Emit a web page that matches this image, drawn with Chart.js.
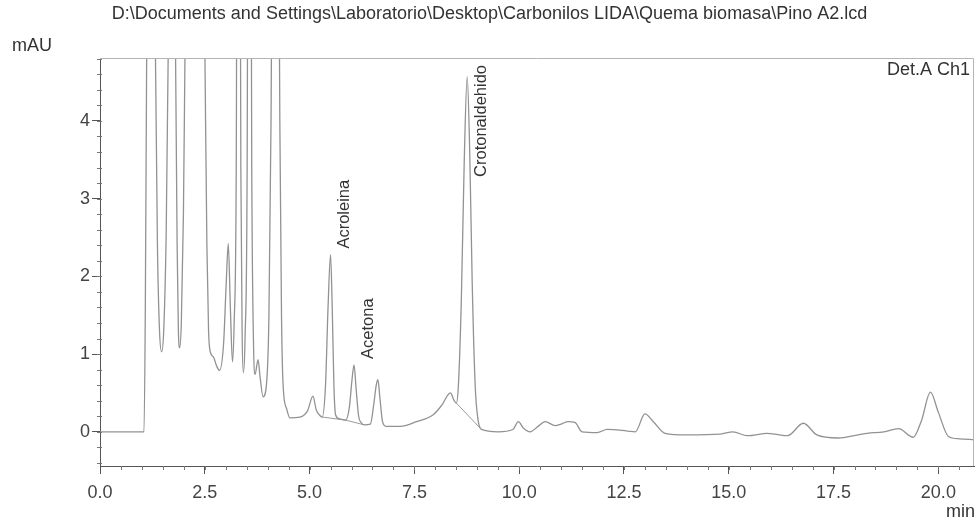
<!DOCTYPE html>
<html>
<head>
<meta charset="utf-8">
<title>Pino A2</title>
<script src="https://cdn.jsdelivr.net/npm/chart.js@4.4.1/dist/chart.umd.min.js"></script>
<style>
  html, body { margin: 0; padding: 0; background: #fff; }
  #crom { display: block; }
</style>
</head>
<body>
<canvas id="crom" width="979" height="521"></canvas>
<script>
// Cromatograma Det.A Ch1 - tiempo (min) vs absorbancia (mAU)
const tiempos = [
  0, 1.05, 1.08, 1.11, 1.22, 1.32, 1.37, 1.42, 1.47,
  1.52, 1.58, 1.63, 1.72, 1.8, 1.84, 1.87, 1.9,
  1.94, 1.99, 2.03, 2.27, 2.5, 2.55, 2.59, 2.63,
  2.71, 2.78, 2.85,
  2.95, 3.01, 3.06, 3.11, 3.16,
  3.2, 3.25, 3.3, 3.36, 3.39, 3.42,
  3.46, 3.51, 3.56, 3.62, 3.66, 3.7,
  3.77, 3.82, 3.89,
  3.97, 4.03, 4.08, 4.18, 4.29, 4.33, 4.37,
  4.45, 4.53, 4.77, 4.95, 5.08, 5.16, 5.23, 5.3,
  5.38, 5.44, 5.5, 5.54, 5.58, 5.62, 5.7, 5.86,
  5.95, 6.01, 6.06, 6.11, 6.17, 6.23, 6.3, 6.45,
  6.53, 6.59, 6.63, 6.68, 6.74, 6.82, 7.16, 7.55, 7.95, 8.15, 8.36, 8.45, 8.5,
  8.55, 8.62, 8.69, 8.76, 8.82, 8.88, 8.95, 9.02, 9.1,
  9.5, 9.85, 9.98, 10.1, 10.26, 10.45, 10.62, 10.86, 11.0, 11.17, 11.33, 11.5,
  11.86, 12.1, 12.58, 12.77, 13.0, 13.2, 13.48, 14.0, 14.8, 15.1, 15.44, 15.92,
  16.1, 16.4, 16.78, 17.1, 17.6, 18.3, 18.7, 19.05, 19.4, 19.6, 19.81, 20.0,
  20.24, 20.5, 20.85
];
const absorbancia = [
  0, 0, 1.5, 4.5, 14, 5, 2.4, 1.3, 1.03,
  1.3, 2.6, 5, 14, 5, 2.4, 1.3, 1.08,
  1.4, 2.8, 5, 16, 5, 2.4, 1.3, 1.03,
  0.96, 0.85, 0.79,
  1.15, 1.9, 2.42, 1.6, 0.9,
  1.4, 3.4, 14, 3.4, 1.3, 0.76,
  1.2, 3.4, 14, 3.4, 1.2, 0.74,
  0.93, 0.7, 0.45,
  0.6, 1.5, 4, 14, 4, 1.5, 0.58,
  0.3, 0.18, 0.19, 0.27, 0.46, 0.28, 0.22, 0.19,
  0.6, 1.6, 2.28, 1.6, 0.6, 0.22, 0.17, 0.15,
  0.32, 0.66, 0.86, 0.55, 0.2, 0.12, 0.09, 0.1,
  0.35, 0.6, 0.67, 0.42, 0.13, 0.07, 0.07, 0.13, 0.22, 0.34, 0.5, 0.4, 0.37,
  0.6, 1.7, 3.5, 4.57, 3.6, 1.9, 0.6, 0.15, 0.03,
  0.0, 0.03, 0.13, 0.05, 0.0, 0.07, 0.13, 0.08, 0.1, 0.13, 0.12, 0.0,
  -0.01, 0.03, 0.01, 0.0, 0.23, 0.13, -0.02, -0.04, -0.03, 0.0, -0.05, -0.02,
  -0.03, -0.05, 0.11, -0.04, -0.08, -0.02, 0.0, 0.04, -0.07, 0.15, 0.51, 0.25,
  -0.06, -0.09, -0.1
];

// picos identificados
const picosNombre = ["Acroleina", "Acetona", "Crotonaldehido"];
const picosTiempo = [5.5, 6.06, 8.76];
const picosAltura = [2.28, 0.86, 4.57];

// lineas base de integracion (inicio / fin)
const baseInicioT = [5.3, 5.86, 8.5];
const baseInicioY = [0.19, 0.15, 0.37];
const baseFinT = [5.86, 6.3, 9.1];
const baseFinY = [0.15, 0.09, 0.03];

const ticksX = [0, 2.5, 5, 7.5, 10, 12.5, 15, 17.5, 20];
const ticksY = [0, 1, 2, 3, 4];

const rutaArchivo = "D:\\Documents and Settings\\Laboratorio\\Desktop\\Carbonilos LIDA\\Quema biomasa\\Pino A2.lcd";
const fuente = '"Liberation Sans", Arial, sans-serif';

const puntos = tiempos.map((t, i) => ({ x: t, y: absorbancia[i] }));
const lineasBase = [];
baseInicioT.forEach((t, i) => {
  lineasBase.push({ x: t, y: baseInicioY[i] });
  lineasBase.push({ x: baseFinT[i], y: baseFinY[i] });
  lineasBase.push({ x: baseFinT[i], y: null });
});

const decoracion = {
  id: "decoracion",
  afterDraw(chart) {
    const ctx = chart.ctx;
    const a = chart.chartArea;
    const sx = chart.scales.x;
    const sy = chart.scales.y;
    ctx.save();

    // marco superior y derecho
    ctx.strokeStyle = "#b5b5b5";
    ctx.lineWidth = 1;
    ctx.beginPath();
    ctx.moveTo(a.left, a.top + 0.5);
    ctx.lineTo(a.right - 0.5, a.top + 0.5);
    ctx.lineTo(a.right - 0.5, a.bottom);
    ctx.stroke();

    // ticks menores
    ctx.strokeStyle = "#777";
    ctx.beginPath();
    for (let i = -2; i <= 24; i++) {
      const py = Math.round(sy.getPixelForValue(i / 5)) + 0.5;
      ctx.moveTo(a.left - 3, py);
      ctx.lineTo(a.left + 2, py);
    }
    for (let i = 1; i <= 41; i++) {
      const px = Math.round(sx.getPixelForValue(i / 2)) + 0.5;
      ctx.moveTo(px, a.bottom);
      ctx.lineTo(px, a.bottom + 4);
    }
    ctx.stroke();

    // textos
    ctx.fillStyle = "#333";
    ctx.textBaseline = "middle";
    ctx.font = "18px " + fuente;
    ctx.textAlign = "center";
    ctx.fillText(rutaArchivo, chart.width / 2, 14);

    ctx.textAlign = "left";
    ctx.fillText("mAU", 12, 46);
    ctx.textAlign = "right";
    ctx.fillText("Det.A Ch1", a.right - 4, 70);
    ctx.fillText("min", a.right + 1, 512);

    // nombres de los picos, verticales
    ctx.font = "16.5px " + fuente;
    picosNombre.forEach((nombre, i) => {
      const px = sx.getPixelForValue(picosTiempo[i]);
      const py = sy.getPixelForValue(picosAltura[i]);
      const largo = ctx.measureText(nombre).width;
      let inicio = py - 6;
      if (inicio - largo < a.top + 7) inicio = a.top + 7 + largo;
      ctx.save();
      ctx.translate(px + 14, inicio);
      ctx.rotate(-Math.PI / 2);
      ctx.textAlign = "left";
      ctx.fillText(nombre, 0, 0);
      ctx.restore();
    });

    ctx.restore();
  }
};

new Chart(document.getElementById("crom"), {
  type: "line",
  data: {
    datasets: [{
      data: puntos,
      borderColor: "#929292",
      borderWidth: 1.3,
      pointRadius: 0,
      cubicInterpolationMode: "monotone"
    }, {
      data: lineasBase,
      borderColor: "#9a9a9a",
      borderWidth: 1,
      pointRadius: 0,
      spanGaps: false
    }]
  },
  options: {
    responsive: false,
    animation: false,
    layout: { padding: { top: 58, right: 5, left: 0, bottom: 0 } },
    plugins: {
      legend: { display: false },
      tooltip: { enabled: false }
    },
    scales: {
      x: {
        type: "linear",
        min: 0,
        max: 20.85,
        afterBuildTicks: s => { s.ticks = ticksX.map(v => ({ value: v })); },
        afterFit: s => { s.height = 55; },
        border: { color: "#555", width: 1 },
        grid: { drawOnChartArea: false, tickLength: 8, color: "#555" },
        ticks: {
          color: "#444",
          padding: 8,
          maxRotation: 0,
          font: { family: fuente, size: 18 },
          callback: v => v.toFixed(1)
        }
      },
      y: {
        type: "linear",
        min: -0.44,
        max: 4.81,
        afterBuildTicks: s => { s.ticks = ticksY.map(v => ({ value: v })); },
        afterFit: s => { s.width = 100; },
        border: { color: "#555", width: 1 },
        grid: { drawOnChartArea: false, tickLength: 8, color: "#555" },
        ticks: {
          color: "#444",
          padding: 2,
          font: { family: fuente, size: 18 },
          callback: v => String(v)
        }
      }
    }
  },
  plugins: [decoracion]
});
</script>
</body>
</html>
